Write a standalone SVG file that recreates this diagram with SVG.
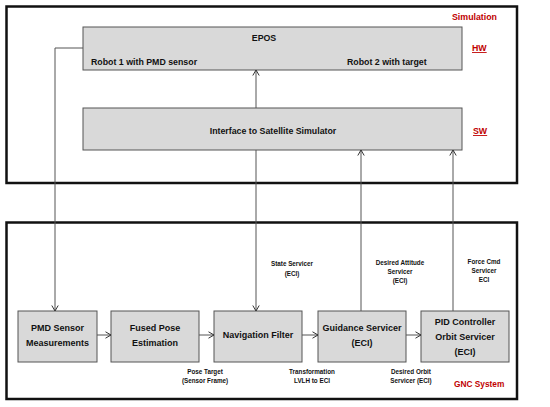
<svg xmlns="http://www.w3.org/2000/svg" width="550" height="407" viewBox="0 0 550 407">
<defs>
<style>
.frame{fill:#fff;stroke:#111;stroke-width:2.5}
.box{fill:#d9d9d9;stroke:#555;stroke-width:1}
.t{font-family:"Liberation Sans",Arial,sans-serif;font-weight:bold;fill:#111}
.big{font-size:8.8px}
.node{font-size:9px;text-anchor:middle}
.small{font-size:6.3px;text-anchor:middle}
.red{fill:#c00000;font-size:8.8px}
.conn{fill:none;stroke:#555;stroke-width:1}
</style>
<marker id="arr" viewBox="0 0 8 8" refX="7" refY="4" markerWidth="8" markerHeight="8" markerUnits="userSpaceOnUse" orient="auto">
<path d="M1.5,0.8 L7,4 L1.5,7.2" fill="none" stroke="#333" stroke-width="1"/>
</marker>
</defs>
<rect width="550" height="407" fill="#fff"/>

<g id="simulation">
<rect class="frame" x="6.5" y="6.5" width="510.5" height="176.5"/>
<text class="t red" x="452" y="20">Simulation</text>
<text class="t red" x="472" y="51" text-decoration="underline">HW</text>
<text class="t red" x="473" y="134" text-decoration="underline">SW</text>
</g>

<g id="gnc">
<rect class="frame" x="6.5" y="222.5" width="510.5" height="176.5"/>
<text class="t red" x="454" y="387" style="font-size:8.3px">GNC System</text>
</g>

<g id="epos">
<rect class="box" x="83" y="27" width="379" height="43"/>
<text class="t big" x="264" y="41" text-anchor="middle">EPOS</text>
<text class="t big" x="91" y="65">Robot 1 with PMD sensor</text>
<text class="t big" x="347" y="65">Robot 2 with target</text>
</g>

<g id="interface">
<rect class="box" x="83" y="108" width="379" height="42"/>
<text class="t big" x="273" y="134" text-anchor="middle">Interface to Satellite Simulator</text>
</g>

<g id="pmd">
<rect class="box" x="18" y="311" width="79" height="51"/>
<text class="t node" x="57.5" y="331">PMD Sensor</text>
<text class="t node" x="57.5" y="346">Measurements</text>
</g>

<g id="fused">
<rect class="box" x="111" y="311" width="88" height="51"/>
<text class="t node" x="155" y="331">Fused Pose</text>
<text class="t node" x="155" y="346">Estimation</text>
</g>

<g id="nav">
<rect class="box" x="214" y="311" width="88" height="51"/>
<text class="t node" x="258" y="338">Navigation Filter</text>
</g>

<g id="guidance">
<rect class="box" x="318" y="311" width="88" height="51"/>
<text class="t node" x="362" y="331">Guidance Servicer</text>
<text class="t node" x="362" y="346">(ECI)</text>
</g>

<g id="pid">
<rect class="box" x="421" y="311" width="88" height="51"/>
<text class="t node" x="465" y="325">PID Controller</text>
<text class="t node" x="465" y="340">Orbit Servicer</text>
<text class="t node" x="465" y="355">(ECI)</text>
</g>

<g id="connectors">
<path class="conn" d="M256,108 V70" marker-end="url(#arr)"/>
<path class="conn" d="M83,48 H55 V311" marker-end="url(#arr)"/>
<path class="conn" d="M256,150 V311" marker-end="url(#arr)"/>
<path class="conn" d="M361,311 V150" marker-end="url(#arr)"/>
<path class="conn" d="M453,311 V150" marker-end="url(#arr)"/>
<path class="conn" d="M97,335 H111" marker-end="url(#arr)"/>
<path class="conn" d="M199,335 H214" marker-end="url(#arr)"/>
<path class="conn" d="M302,335 H318" marker-end="url(#arr)"/>
<path class="conn" d="M406,335 H421" marker-end="url(#arr)"/>
</g>

<g id="labels">
<text class="t small" x="292" y="266">State Servicer</text>
<text class="t small" x="292" y="276">(ECI)</text>
<text class="t small" x="400" y="265">Desired Attitude</text>
<text class="t small" x="400" y="274">Servicer</text>
<text class="t small" x="400" y="283">(ECI)</text>
<text class="t small" x="484" y="264">Force Cmd</text>
<text class="t small" x="484" y="273">Servicer</text>
<text class="t small" x="484" y="282">ECI</text>
<text class="t small" x="205" y="374">Pose Target</text>
<text class="t small" x="205" y="383">(Sensor Frame)</text>
<text class="t small" x="312" y="374">Transformation</text>
<text class="t small" x="312" y="383">LVLH to ECI</text>
<text class="t small" x="411" y="374">Desired Orbit</text>
<text class="t small" x="411" y="383">Servicer (ECI)</text>
</g>
</svg>
